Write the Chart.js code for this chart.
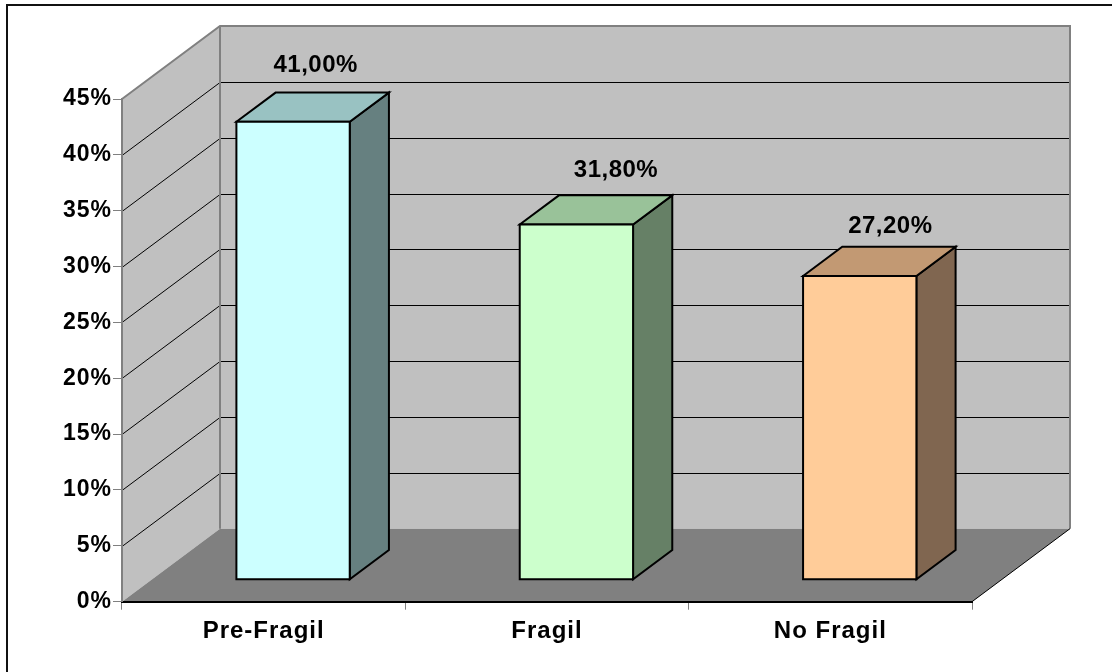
<!DOCTYPE html>
<html>
<head>
<meta charset="utf-8">
<script src="https://cdn.jsdelivr.net/npm/chart.js@4.4.0/dist/chart.umd.min.js"></script>
<style>
  html, body { margin: 0; padding: 0; background: #fff; }
  #c { display: block; }
</style>
</head>
<body>
<canvas id="c" width="1112" height="672"></canvas>
<script>
// ---- data ----
const categories = ['Pre-Fragil', 'Fragil', 'No Fragil'];
const shares = [41.0, 31.8, 27.2];
const yTickLabels = ['0%', '5%', '10%', '15%', '20%', '25%', '30%', '35%', '40%', '45%'];

// ---- styling ----
const faceFront = ['#CCFFFF', '#CCFFCC', '#FFCC99'];
const faceTop   = ['#99C2C2', '#99C299', '#C29973'];
const faceSide  = ['#668080', '#668066', '#806650'];
const labelNudge = [[3, -21], [20, -18], [11, -14]]; // value label offsets (x, baseline)

const DEPTH_X = 98, DEPTH_Y = -73;   // floor depth vector
const BAR_Z0 = 0.3, BAR_Z1 = 0.7;    // bar front/back as fraction of depth
const FONT = '"Liberation Sans", Arial, sans-serif';

function poly(ctx, pts) {
  ctx.beginPath();
  ctx.moveTo(pts[0][0], pts[0][1]);
  for (let i = 1; i < pts.length; i++) ctx.lineTo(pts[i][0], pts[i][1]);
  ctx.closePath();
}

// walls, floor and gridlines of the 3D box
const box3d = {
  id: 'box3d',
  beforeDraw(chart) {
    const ctx = chart.ctx;
    const xs = chart.scales.x, ys = chart.scales.y;
    const L = xs.left, R = xs.right;
    const y0 = ys.getPixelForValue(ys.min), yT = ys.getPixelForValue(ys.max);
    const dx = DEPTH_X, dy = DEPTH_Y;
    ctx.save();
    ctx.fillStyle = '#fff';
    ctx.fillRect(0, 0, chart.width, chart.height);

    // outer frame
    ctx.strokeStyle = '#111';
    ctx.lineWidth = 2;
    ctx.strokeRect(7, 5, 1300, 900);

    // side wall
    ctx.fillStyle = '#C0C0C0';
    poly(ctx, [[L, yT], [L + dx, yT + dy], [L + dx, y0 + dy], [L, y0]]);
    ctx.fill();
    // back wall
    ctx.fillRect(L + dx, yT + dy, R - L, y0 - yT);
    // floor
    ctx.fillStyle = '#808080';
    poly(ctx, [[L, y0], [R, y0], [R + dx, y0 + dy], [L + dx, y0 + dy]]);
    ctx.fill();

    // gridlines
    ctx.strokeStyle = '#000';
    ctx.lineWidth = 1;
    ys.ticks.forEach(t => {
      if (t.value <= ys.min || t.value >= ys.max) return;
      const p = Math.round(ys.getPixelForValue(t.value)) + 0.5;
      ctx.beginPath();
      ctx.moveTo(L, p);
      ctx.lineTo(L + dx, p + dy);
      ctx.lineTo(R + dx, p + dy);
      ctx.stroke();
    });

    // wall edges
    ctx.strokeStyle = '#808080';
    ctx.lineWidth = 2;
    ctx.beginPath();
    ctx.moveTo(L, yT);
    ctx.lineTo(L + dx, yT + dy);
    ctx.lineTo(R + dx, yT + dy);
    ctx.lineTo(R + dx, y0 + dy);
    ctx.moveTo(L + dx, yT + dy);
    ctx.lineTo(L + dx, y0 + dy);
    ctx.stroke();
    // floor right edge
    ctx.strokeStyle = '#000';
    ctx.lineWidth = 1;
    ctx.beginPath();
    ctx.moveTo(R, y0);
    ctx.lineTo(R + dx, y0 + dy);
    ctx.stroke();
    ctx.restore();

    ctx.letterSpacing = '1px';
  },
  afterDatasetsDraw(chart) {
    const ctx = chart.ctx;
    const meta = chart.getDatasetMeta(0);
    const ox = DEPTH_X * BAR_Z0, oy = DEPTH_Y * BAR_Z0;
    const bx = DEPTH_X * (BAR_Z1 - BAR_Z0), by = DEPTH_Y * (BAR_Z1 - BAR_Z0);
    ctx.save();
    ctx.lineWidth = 2;
    ctx.lineJoin = 'miter';
    ctx.strokeStyle = '#000';
    meta.data.forEach((el, i) => {
      const p = el.getProps(['x', 'y', 'base', 'width'], true);
      const fl = p.x - p.width / 2 + ox, fr = p.x + p.width / 2 + ox;
      const ft = p.y + oy, fb = p.base + oy;
      // side
      ctx.fillStyle = faceSide[i];
      poly(ctx, [[fr, ft], [fr + bx, ft + by], [fr + bx, fb + by], [fr, fb]]);
      ctx.fill(); ctx.stroke();
      // top
      ctx.fillStyle = faceTop[i];
      poly(ctx, [[fl, ft], [fl + bx, ft + by], [fr + bx, ft + by], [fr, ft]]);
      ctx.fill(); ctx.stroke();
      // front
      ctx.fillStyle = faceFront[i];
      poly(ctx, [[fl, ft], [fr, ft], [fr, fb], [fl, fb]]);
      ctx.fill(); ctx.stroke();

      // value label
      const v = chart.data.datasets[0].data[i];
      const txt = v.toFixed(2).replace('.', ',') + '%';
      ctx.font = 'bold 24px ' + FONT;
      ctx.letterSpacing = '0.5px';
      ctx.fillStyle = '#000';
      ctx.textAlign = 'center';
      ctx.textBaseline = 'alphabetic';
      ctx.fillText(txt, (fl + fr + bx) / 2 + labelNudge[i][0], ft + by + labelNudge[i][1]);
    });
    ctx.restore();
  }
};

new Chart(document.getElementById('c'), {
  type: 'bar',
  data: {
    labels: categories,
    datasets: [{
      data: shares,
      backgroundColor: 'rgba(0,0,0,0)',
      borderWidth: 0,
      barPercentage: 0.4,
      categoryPercentage: 1
    }]
  },
  options: {
    responsive: false,
    animation: false,
    devicePixelRatio: 1,
    layout: { padding: { left: 0, top: 99, right: 140, bottom: 0 } },
    plugins: { legend: { display: false }, tooltip: { enabled: false } },
    scales: {
      x: {
        offset: true,
        grid: { offset: true, drawOnChartArea: false, drawTicks: true, tickLength: 8, color: '#808080', lineWidth: 1 },
        border: { color: '#000', width: 2 },
        ticks: { color: '#000', font: { family: FONT, size: 24, weight: 'bold' }, padding: 7, maxRotation: 0 },
        afterFit(s) { s.height = 70.3; }
      },
      y: {
        min: 0,
        max: 45,
        ticks: {
          stepSize: 5,
          color: '#000',
          font: { family: FONT, size: 23, weight: 'bold' },
          padding: 1,
          callback: (v, i) => yTickLabels[i]
        },
        grid: { drawOnChartArea: false, drawTicks: true, tickLength: 9, color: '#808080', lineWidth: 1 },
        border: { color: '#808080', width: 2 },
        afterFit(s) { s.width = 122; }
      }
    }
  },
  plugins: [box3d]
});
</script>
</body>
</html>
